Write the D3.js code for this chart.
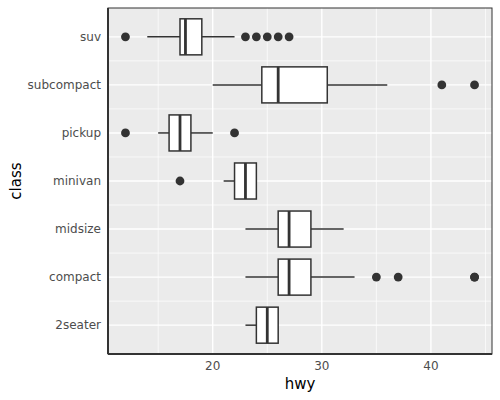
<!DOCTYPE html>
<html>
<head>
<meta charset="utf-8">
<script src="https://cdn.jsdelivr.net/npm/d3@7"></script>
<style>
  body { margin: 0; background: #fff; }
  text { font-family: "DejaVu Sans", sans-serif; }
</style>
</head>
<body>
<div id="chart"></div>
<script>
// classes, bottom to top
const classes = ['2seater', 'compact', 'midsize', 'minivan', 'pickup', 'subcompact', 'suv']
// box stats per class
const lowWhisker = [23, 23, 23, 21, 15, 20, 14]
const q1 = [24, 26, 26, 22, 16, 24.5, 17]
const median = [25, 27, 27, 23, 17, 26, 17.5]
const q3 = [26, 29, 29, 24, 18, 30.5, 19]
const highWhisker = [26, 33, 32, 24, 20, 36, 22]
const outliers = [[], [35, 37, 44, 44], [], [17], [12, 22], [41, 44], [12, 23, 24, 25, 26, 27]]
const xTicks = [20, 30, 40]
const xMinor = [15, 25, 35, 45]

const width = 500
const height = 400
const margin = { top: 8, right: 8, bottom: 46, left: 108 }
const pw = width - margin.left - margin.right
const ph = height - margin.top - margin.bottom

let svg = d3.select('#chart')
    .append('svg')
    .attr('width', width)
    .attr('height', height)

let g = svg.append('g')
    .attr('transform', `translate(${margin.left},${margin.top})`)

// x: data 12..44 with 5% expand
const x = d3.scaleLinear().domain([10.4, 45.6]).range([0, pw])
// y: discrete positions 1..7 with 0.6 expand
const y = d3.scaleLinear().domain([0.4, 7.6]).range([ph, 0])
const band = (ph / 7.2) * 0.75

// panel background
g.append('rect').attr('width', pw).attr('height', ph).attr('fill', '#EBEBEB')

// minor grid
g.selectAll('.vminor').data(xMinor).join('line')
    .attr('x1', d => x(d)).attr('x2', d => x(d))
    .attr('y1', 0).attr('y2', ph)
    .attr('stroke', '#fff').attr('stroke-width', 0.7)
g.selectAll('.hminor').data(d3.range(1.5, 7, 1)).join('line')
    .attr('y1', d => y(d)).attr('y2', d => y(d))
    .attr('x1', 0).attr('x2', pw)
    .attr('stroke', '#fff').attr('stroke-width', 0.7)

// major grid
g.selectAll('.vmajor').data(xTicks).join('line')
    .attr('x1', d => x(d)).attr('x2', d => x(d))
    .attr('y1', 0).attr('y2', ph)
    .attr('stroke', '#fff').attr('stroke-width', 1.4)
g.selectAll('.hmajor').data(classes).join('line')
    .attr('y1', (d, i) => y(i + 1)).attr('y2', (d, i) => y(i + 1))
    .attr('x1', 0).attr('x2', pw)
    .attr('stroke', '#fff').attr('stroke-width', 1.4)

const ink = '#333333'

// boxplots
classes.forEach((c, i) => {
    const cy = y(i + 1)
    let b = g.append('g')
    b.append('line')
        .attr('x1', x(lowWhisker[i])).attr('x2', x(q1[i]))
        .attr('y1', cy).attr('y2', cy)
        .attr('stroke', ink).attr('stroke-width', 1.5)
    b.append('line')
        .attr('x1', x(q3[i])).attr('x2', x(highWhisker[i]))
        .attr('y1', cy).attr('y2', cy)
        .attr('stroke', ink).attr('stroke-width', 1.5)
    b.append('rect')
        .attr('x', x(q1[i])).attr('width', x(q3[i]) - x(q1[i]))
        .attr('y', cy - band / 2).attr('height', band)
        .attr('fill', '#fff').attr('stroke', ink).attr('stroke-width', 1.5)
    b.append('line')
        .attr('x1', x(median[i])).attr('x2', x(median[i]))
        .attr('y1', cy - band / 2).attr('y2', cy + band / 2)
        .attr('stroke', ink).attr('stroke-width', 2.8)
    b.selectAll('circle').data(outliers[i]).join('circle')
        .attr('cx', d => x(d)).attr('cy', cy).attr('r', 4.4)
        .attr('fill', ink)
})

// panel border and axis lines
g.append('rect').attr('width', pw).attr('height', ph)
    .attr('fill', 'none').attr('stroke', '#333').attr('stroke-width', 1)
g.append('line').attr('x1', 0).attr('x2', 0).attr('y1', 0).attr('y2', ph)
    .attr('stroke', '#333').attr('stroke-width', 2)
g.append('line').attr('x1', 0).attr('x2', pw).attr('y1', ph).attr('y2', ph)
    .attr('stroke', '#333').attr('stroke-width', 2)

// tick labels
g.selectAll('.xlab').data(xTicks).join('text')
    .attr('x', d => x(d)).attr('y', ph + 16)
    .attr('text-anchor', 'middle').attr('fill', '#4D4D4D')
    .attr('font-size', 12).text(d => d)
g.selectAll('.ylab').data(classes).join('text')
    .attr('x', -7).attr('y', (d, i) => y(i + 1))
    .attr('dy', '0.35em')
    .attr('text-anchor', 'end').attr('fill', '#4D4D4D')
    .attr('font-size', 12).text(d => d)

// axis titles
svg.append('text')
    .attr('x', margin.left + pw / 2).attr('y', 389)
    .attr('text-anchor', 'middle').attr('font-size', 15).attr('fill', '#000')
    .text('hwy')
svg.append('text')
    .attr('transform', `translate(21,${margin.top + ph / 2}) rotate(-90)`)
    .attr('text-anchor', 'middle').attr('font-size', 15).attr('fill', '#000')
    .text('class')
</script>
</body>
</html>
